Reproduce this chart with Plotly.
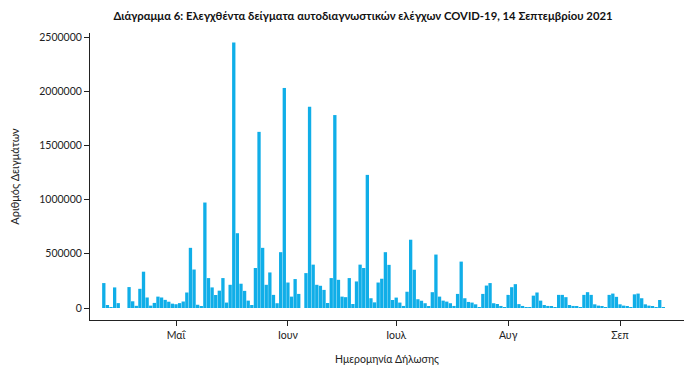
import plotly.graph_objects as go
import pandas as pd

# ---- data ----
start_date = "2021-04-11"
samples = [
    230000, 28000, 5000, 190000, 45000, 0, 0, 193000, 62000, 20000,
    177000, 335000, 97000, 22000, 47000, 105000, 97000, 75000, 58000, 40000,
    35000, 45000, 60000, 143000, 555000, 355000, 30000, 15000, 973000,
    276000, 190000, 120000, 160000, 276000, 50000, 214000, 2450000,
    690000, 224000, 158000, 68000, 28000, 369000, 1625000,
    555000, 214000, 328000, 121000, 44000, 515000, 2030000,
    235000, 105000, 267000, 130000, 0, 322000, 1857000,
    400000, 214000, 205000, 167000, 46000, 276000, 1780000,
    260000, 105000, 100000, 276000, 37000, 245000, 400000, 369000, 1228000,
    90000, 52000, 235000, 270000, 515000, 398000, 74000, 96000, 50000, 19000,
    150000, 630000, 353000, 81000, 67000, 44000, 15000,
    146000, 493000, 105000, 68000, 59000, 44000, 19000,
    130000, 428000, 90000, 56000, 50000, 34000, 9000,
    130000, 207000, 230000, 44000, 37000, 19000, 9000,
    121000, 192000, 220000, 36000, 19000, 9000, 5000,
    114000, 143000, 68000, 28000, 19000, 12000, 3000,
    121000, 121000, 100000, 28000, 19000, 12000, 3000,
    121000, 146000, 121000, 34000, 22000, 12000, 3000,
    121000, 133000, 103000, 34000, 22000, 12000, 3000,
    126000, 133000, 90000, 34000, 22000, 12000, 3000,
    74000, 5000,
]
dates = pd.date_range(start_date, periods=len(samples), freq="D")

tick_dates = ["2021-05-01", "2021-06-01", "2021-07-01", "2021-08-01", "2021-09-01"]
tick_labels = ["Μαΐ", "Ιουν", "Ιουλ", "Αυγ", "Σεπ"]
y_ticks = [0, 500000, 1000000, 1500000, 2000000, 2500000]

title_text = "Διάγραμμα 6: Ελεγχθέντα δείγματα αυτοδιαγνωστικών ελέγχων COVID-19, 14 Σεπτεμβρίου 2021"
x_title = "Ημερομηνία Δήλωσης"
y_title = "Αριθμός Δειγμάτων"

# ---- layout geometry (page coordinates; the page body has an 8px margin) ----
OFF = 8
PAGE_W, PAGE_H = 695, 373
W, H = PAGE_W - 2 * OFF, PAGE_H - 2 * OFF
L, R, T, B = 90, 684, 33, 320           # plot area in page pixels
px_per_day = 3.61
may1_px = 176
ref = pd.Timestamp("2021-05-01")
x0 = ref - pd.Timedelta(days=(may1_px - L) / px_per_day)
x1 = ref + pd.Timedelta(days=(R - may1_px) / px_per_day)

FONT = "Lato"
BAR = "#10AEE8"

fig = go.Figure(
    go.Bar(
        x=dates,
        y=samples,
        marker=dict(color=BAR, line=dict(width=0)),
        hoverinfo="x+y",
    )
)

fig.update_layout(
    width=W,
    height=H,
    margin=dict(l=L - OFF, r=(PAGE_W - OFF) - R, t=T - OFF, b=(PAGE_H - OFF) - B),
    plot_bgcolor="white",
    paper_bgcolor="white",
    bargap=0.08,
    showlegend=False,
    font=dict(family=FONT, size=10, color="#222"),
    title=dict(
        text="<b>" + title_text + "</b>",
        x=(363 - OFF) / W,
        xanchor="center",
        y=1 - (16 - OFF) / H,
        yanchor="middle",
        font=dict(family=FONT, size=11.3, color="#111"),
    ),
)

fig.update_xaxes(
    type="date",
    range=[x0, x1],
    tickvals=tick_dates,
    ticktext=tick_labels,
    ticks="outside",
    ticklen=5,
    tickcolor="#222",
    showline=True,
    linecolor="#222",
    linewidth=1,
    showgrid=False,
    zeroline=False,
    automargin=False,
    tickfont=dict(family=FONT, size=10.5, color="#222"),
    title=dict(text=x_title, font=dict(family=FONT, size=10.5, color="#222"), standoff=17),
)

fig.update_yaxes(
    range=[-110700, 2537000],
    tickvals=y_ticks,
    ticktext=[str(v) for v in y_ticks],
    ticks="outside",
    ticklen=5,
    tickcolor="#222",
    showline=True,
    linecolor="#222",
    linewidth=1,
    showgrid=False,
    zeroline=False,
    automargin=False,
    tickfont=dict(family=FONT, size=10.5, color="#222"),
    title=dict(text=y_title, font=dict(family=FONT, size=11, color="#222"), standoff=26),
)

fig.write_html("out.html")
